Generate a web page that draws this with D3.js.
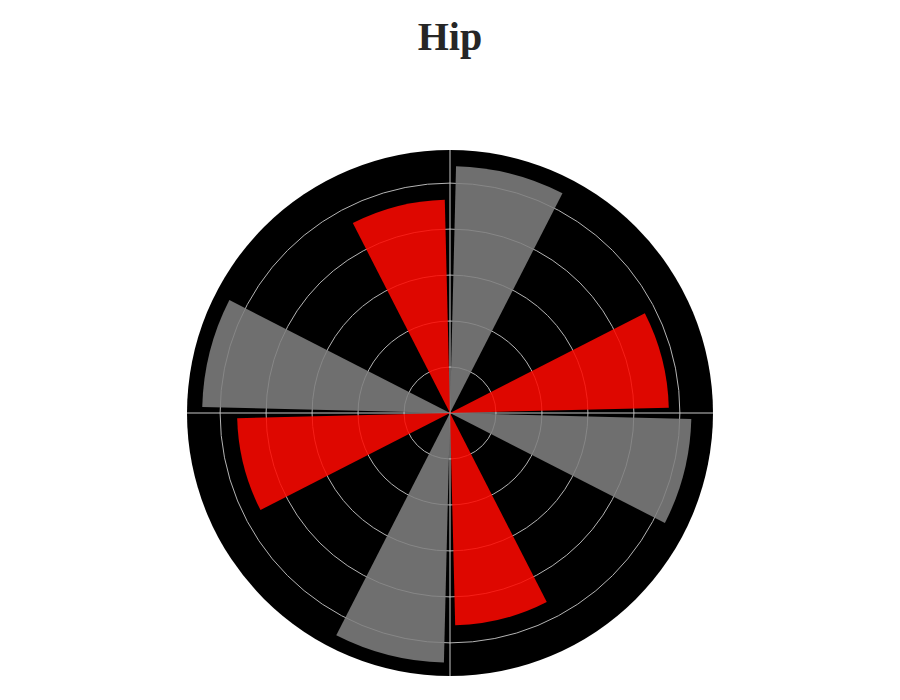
<!DOCTYPE html>
<html><head><meta charset="utf-8">
<script src="https://cdn.jsdelivr.net/npm/d3@7"></script>
<style>body{margin:0;background:#fff}</style>
</head><body>
<script>
const title = "Hip";
const grayTheta = [14.25, 104.25, 194.25, 284.25];
const grayR = [5.37, 5.25, 5.43, 5.39];
const redTheta = [75.75, 165.75, 255.75, 345.75];
const redR = [4.76, 4.62, 4.63, 4.64];
const barWidth = 25.7;
const radialTicks = [1, 2, 3, 4, 5];
const radialMax = 5.72;
const angleTicks = [0, 90, 180, 270];

const W = 900, H = 700, cx = 450, cy = 413, R = 263;
const svg = d3.select("body").append("svg").attr("width", W).attr("height", H);

svg.append("text").attr("x", W/2).attr("y", 50).attr("text-anchor", "middle")
  .attr("font-family", "'Liberation Serif', serif").attr("font-weight", "bold")
  .attr("font-size", 40).attr("fill", "#262626").text(title);

const r = d3.scaleLinear().domain([0, radialMax]).range([0, R]);
const a = d => d * Math.PI / 180;
const g = svg.append("g").attr("transform", `translate(${cx},${cy})`);

g.append("circle").attr("r", R).attr("fill", "#000");

g.selectAll(".grid").data(radialTicks).join("circle")
  .attr("r", d => r(d)).attr("fill", "none").attr("stroke", "#b4b4b4").attr("stroke-width", 1);

g.selectAll(".spoke").data(angleTicks).join("line")
  .attr("x1", 0).attr("y1", 0)
  .attr("x2", d => R * Math.sin(a(d))).attr("y2", d => -R * Math.cos(a(d)))
  .attr("stroke", "#c8c8c8").attr("stroke-width", 1);

function bars(thetas, radii, color) {
  const arc = d3.arc().innerRadius(0)
    .outerRadius(d => r(d.r))
    .startAngle(d => a(d.t - barWidth / 2))
    .endAngle(d => a(d.t + barWidth / 2));
  g.append("g").selectAll("path").data(thetas.map((t, i) => ({t, r: radii[i]})))
    .join("path").attr("d", arc).attr("fill", color).attr("fill-opacity", 0.87);
}
bars(grayTheta, grayR, "#808080");
bars(redTheta, redR, "#ff0800");
</script>
</body></html>
